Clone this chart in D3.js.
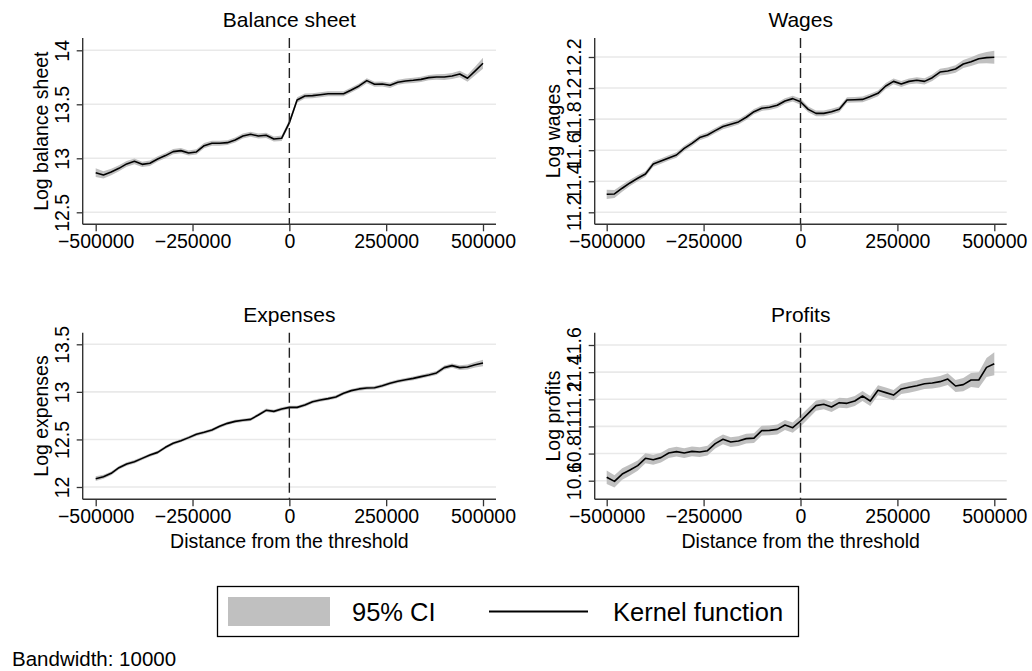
<!DOCTYPE html>
<html>
<head>
<meta charset="utf-8">
<script src="https://cdn.jsdelivr.net/npm/d3@7"></script>
<style>
  html, body { margin: 0; padding: 0; background: #fff; }
  svg { display: block; }
  text { font-family: "Liberation Sans", Arial, Helvetica, sans-serif; fill: #000; }
</style>
</head>
<body>
<svg id="chart" width="1032" height="671"></svg>
<script>
// ---------------- DATA ----------------
const distance = [-500000,-480000,-460000,-440000,-420000,-400000,-380000,-360000,-340000,-320000,
  -300000,-280000,-260000,-240000,-220000,-200000,-180000,-160000,-140000,-120000,
  -100000,-80000,-60000,-40000,-20000,0,20000,40000,60000,80000,
  100000,120000,140000,160000,180000,200000,220000,240000,260000,280000,
  300000,320000,340000,360000,380000,400000,420000,440000,460000,480000,500000];

const balanceKernel = [12.867,12.846,12.873,12.907,12.948,12.972,12.944,12.954,12.994,13.025,
  13.062,13.071,13.049,13.059,13.117,13.139,13.139,13.145,13.170,13.207,
  13.222,13.207,13.213,13.179,13.185,13.330,13.540,13.577,13.580,13.589,
  13.598,13.598,13.598,13.633,13.670,13.719,13.685,13.688,13.676,13.704,
  13.716,13.722,13.731,13.747,13.753,13.753,13.762,13.781,13.741,13.809,13.880];
const balanceCI = [0.040,0.034,0.030,0.028,0.027,0.026,0.025,0.025,0.024,0.024,
  0.024,0.024,0.024,0.024,0.024,0.023,0.023,0.023,0.023,0.023,
  0.023,0.023,0.024,0.024,0.025,0.027,0.026,0.024,0.023,0.023,
  0.023,0.023,0.023,0.023,0.023,0.023,0.023,0.024,0.024,0.024,
  0.024,0.024,0.025,0.025,0.026,0.027,0.028,0.030,0.033,0.040,0.050];

const wagesKernel = [11.316,11.318,11.355,11.389,11.419,11.447,11.511,11.530,11.550,11.569,
  11.612,11.644,11.681,11.698,11.726,11.752,11.767,11.782,11.812,11.848,
  11.870,11.876,11.889,11.917,11.932,11.912,11.863,11.837,11.837,11.848,
  11.863,11.923,11.925,11.927,11.945,11.966,12.013,12.043,12.026,12.043,
  12.050,12.043,12.067,12.103,12.110,12.123,12.155,12.170,12.189,12.196,12.198];
const wagesCI = [0.030,0.026,0.022,0.020,0.019,0.018,0.018,0.017,0.017,0.017,
  0.017,0.017,0.017,0.017,0.017,0.017,0.017,0.017,0.017,0.017,
  0.017,0.017,0.018,0.018,0.019,0.020,0.019,0.018,0.018,0.018,
  0.018,0.018,0.018,0.018,0.018,0.018,0.019,0.019,0.019,0.019,
  0.020,0.020,0.021,0.022,0.023,0.024,0.026,0.028,0.031,0.036,0.042];

const expensesKernel = [12.087,12.108,12.144,12.203,12.242,12.266,12.301,12.336,12.364,12.417,
  12.459,12.487,12.519,12.554,12.575,12.599,12.638,12.669,12.690,12.701,
  12.711,12.757,12.806,12.795,12.820,12.837,12.837,12.862,12.897,12.915,
  12.929,12.946,12.985,13.013,13.031,13.041,13.044,13.065,13.090,13.111,
  13.128,13.142,13.160,13.178,13.199,13.255,13.276,13.255,13.262,13.286,13.304];
const expensesCI = [0.025,0.022,0.020,0.019,0.018,0.018,0.017,0.017,0.017,0.017,
  0.017,0.017,0.017,0.017,0.017,0.017,0.017,0.017,0.017,0.017,
  0.017,0.017,0.018,0.018,0.018,0.018,0.018,0.018,0.018,0.018,
  0.018,0.018,0.018,0.018,0.018,0.018,0.018,0.018,0.019,0.019,
  0.019,0.019,0.020,0.020,0.021,0.022,0.023,0.024,0.026,0.029,0.034];

const profitsKernel = [10.625,10.595,10.649,10.679,10.711,10.765,10.755,10.770,10.804,10.814,
  10.804,10.816,10.811,10.821,10.873,10.905,10.885,10.892,10.910,10.914,
  10.969,10.971,10.978,11.010,10.991,11.040,11.096,11.153,11.163,11.143,
  11.175,11.170,11.187,11.224,11.187,11.266,11.249,11.231,11.276,11.288,
  11.300,11.315,11.320,11.330,11.349,11.298,11.308,11.342,11.342,11.435,11.462];
const profitsCI = [0.050,0.045,0.042,0.040,0.038,0.037,0.037,0.036,0.036,0.036,
  0.036,0.036,0.036,0.036,0.036,0.036,0.036,0.036,0.036,0.036,
  0.036,0.036,0.037,0.037,0.038,0.040,0.039,0.038,0.037,0.037,
  0.037,0.037,0.037,0.037,0.037,0.037,0.038,0.038,0.038,0.039,
  0.039,0.040,0.041,0.042,0.043,0.045,0.048,0.052,0.058,0.070,0.085];

const xTicks = [-500000, -250000, 0, 250000, 500000];
const balanceTicks = [12.5, 13, 13.5, 14];
const wagesTicks = [11.2, 11.4, 11.6, 11.8, 12, 12.2];
const expensesTicks = [12, 12.5, 13, 13.5];
const profitsTicks = [10.6, 10.8, 11, 11.2, 11.4, 11.6];

const panelTitles = ["Balance sheet", "Wages", "Expenses", "Profits"];
const yTitles = ["Log balance sheet", "Log wages", "Log expenses", "Log profits"];
const xTitle = "Distance from the threshold";
const legendLabels = ["95% CI", "Kernel function"];
const noteText = "Bandwidth: 10000";

// ---------------- LAYOUT ----------------
const layouts = [
  {axisX: 82.7, right: 496, top: 38, bottom: 224.3, xr: [95.7, 483], yr: [212.3, 50.3], titleY: 27, showXTitle: false},
  {axisX: 594.7, right: 1006.7, top: 38, bottom: 224.3, xr: [606.7, 994.3], yr: [212.3, 57], titleY: 27, showXTitle: false},
  {axisX: 82.7, right: 496, top: 332.7, bottom: 499.3, xr: [95.7, 483], yr: [487, 344.3], titleY: 322, showXTitle: true},
  {axisX: 594.7, right: 1006.7, top: 332.7, bottom: 499.3, xr: [606.7, 994.3], yr: [480.7, 345], titleY: 322, showXTitle: true}
];

const kernels = [balanceKernel, wagesKernel, expensesKernel, profitsKernel];
const cis = [balanceCI, wagesCI, expensesCI, profitsCI];
const yTickSets = [balanceTicks, wagesTicks, expensesTicks, profitsTicks];

const svg = d3.select("#chart");
const FONT_TICK = 19.5, FONT_TITLE = 21, FONT_AXT = 19.5;
const fmt = d => (d < 0 ? "\u2212" + Math.abs(d) : String(d));

kernels.forEach((kern, i) => {
  const L = layouts[i];
  const ticks = yTickSets[i];
  const x = d3.scaleLinear().domain([-500000, 500000]).range(L.xr);
  const y = d3.scaleLinear().domain([ticks[0], ticks[ticks.length - 1]]).range(L.yr);
  const g = svg.append("g");
  const rows = distance.map((d, k) => ({d, v: kern[k], lo: kern[k] - cis[i][k], hi: kern[k] + cis[i][k]}));

  // grid lines
  g.selectAll("line.grid").data(ticks).enter().append("line")
    .attr("x1", L.axisX).attr("x2", L.right)
    .attr("y1", d => y(d)).attr("y2", d => y(d))
    .attr("stroke", "#e9e9e9").attr("stroke-width", 1.6);

  // CI band
  g.append("path").datum(rows)
    .attr("d", d3.area().x(r => x(r.d)).y0(r => y(r.lo)).y1(r => y(r.hi)))
    .attr("fill", "#c0c0c0").attr("stroke", "none");

  // kernel line
  g.append("path").datum(rows)
    .attr("d", d3.line().x(r => x(r.d)).y(r => y(r.v)))
    .attr("fill", "none").attr("stroke", "#000").attr("stroke-width", 1.6)
    .attr("stroke-linejoin", "round");

  // threshold dashed line
  g.append("line")
    .attr("x1", x(0)).attr("x2", x(0)).attr("y1", L.top).attr("y2", L.bottom)
    .attr("stroke", "#222").attr("stroke-width", 1.4).attr("stroke-dasharray", "10,5");

  // x axis
  const xAxis = d3.axisBottom(x).tickValues(xTicks).tickFormat(fmt).tickSize(7).tickSizeOuter(0);
  const xg = g.append("g").attr("transform", `translate(0,${L.bottom})`).call(xAxis);
  xg.select(".domain").remove();
  xg.selectAll(".tick line").attr("stroke", "#333").attr("stroke-width", 1.3);
  xg.selectAll(".tick text").attr("font-size", FONT_TICK).attr("font-family", "Liberation Sans, Arial, sans-serif")
    .attr("fill", "#000").attr("y", 10).attr("dy", "0.71em");
  g.append("line").attr("x1", L.axisX).attr("x2", L.right).attr("y1", L.bottom).attr("y2", L.bottom)
    .attr("stroke", "#333").attr("stroke-width", 1.4);

  // y axis
  const yAxis = d3.axisLeft(y).tickValues(ticks).tickFormat(d => String(d)).tickSize(6).tickSizeOuter(0);
  const yg = g.append("g").attr("transform", `translate(${L.axisX},0)`).call(yAxis);
  yg.select(".domain").remove();
  yg.selectAll(".tick line").attr("stroke", "#333").attr("stroke-width", 1.3);
  yg.selectAll(".tick text")
    .attr("font-size", FONT_TICK).attr("font-family", "Liberation Sans, Arial, sans-serif").attr("fill", "#000")
    .attr("x", null).attr("dy", null).attr("text-anchor", "middle")
    .attr("transform", "translate(-14,0) rotate(-90)");
  g.append("line").attr("x1", L.axisX).attr("x2", L.axisX).attr("y1", L.top).attr("y2", L.bottom)
    .attr("stroke", "#333").attr("stroke-width", 1.4);

  // title
  g.append("text").attr("x", (L.axisX + L.right) / 2).attr("y", L.titleY)
    .attr("text-anchor", "middle").attr("font-size", FONT_TITLE).text(panelTitles[i]);

  // y title
  g.append("text")
    .attr("transform", `translate(${L.axisX - 35},${(L.top + L.bottom) / 2}) rotate(-90)`)
    .attr("text-anchor", "middle").attr("font-size", FONT_AXT).text(yTitles[i]);

  if (L.showXTitle) {
    g.append("text").attr("x", (L.axisX + L.right) / 2).attr("y", L.bottom + 49)
      .attr("text-anchor", "middle").attr("font-size", FONT_AXT).text(xTitle);
  }
});

// ---------------- LEGEND ----------------
const lg = svg.append("g");
lg.append("rect").attr("x", 217.5).attr("y", 586.5).attr("width", 581).attr("height", 50)
  .attr("fill", "#fff").attr("stroke", "#000").attr("stroke-width", 1.3);
lg.append("rect").attr("x", 228).attr("y", 597).attr("width", 102).attr("height", 29).attr("fill", "#c0c0c0");
lg.append("text").attr("x", 352).attr("y", 620.5).attr("font-size", 25.5).text(legendLabels[0]);
lg.append("line").attr("x1", 489).attr("x2", 588).attr("y1", 611.5).attr("y2", 611.5)
  .attr("stroke", "#000").attr("stroke-width", 1.8);
lg.append("text").attr("x", 613).attr("y", 620.5).attr("font-size", 25.5).text(legendLabels[1]);

// note
svg.append("text").attr("x", 12).attr("y", 666).attr("font-size", 20.5).text(noteText);
</script>
</body>
</html>
